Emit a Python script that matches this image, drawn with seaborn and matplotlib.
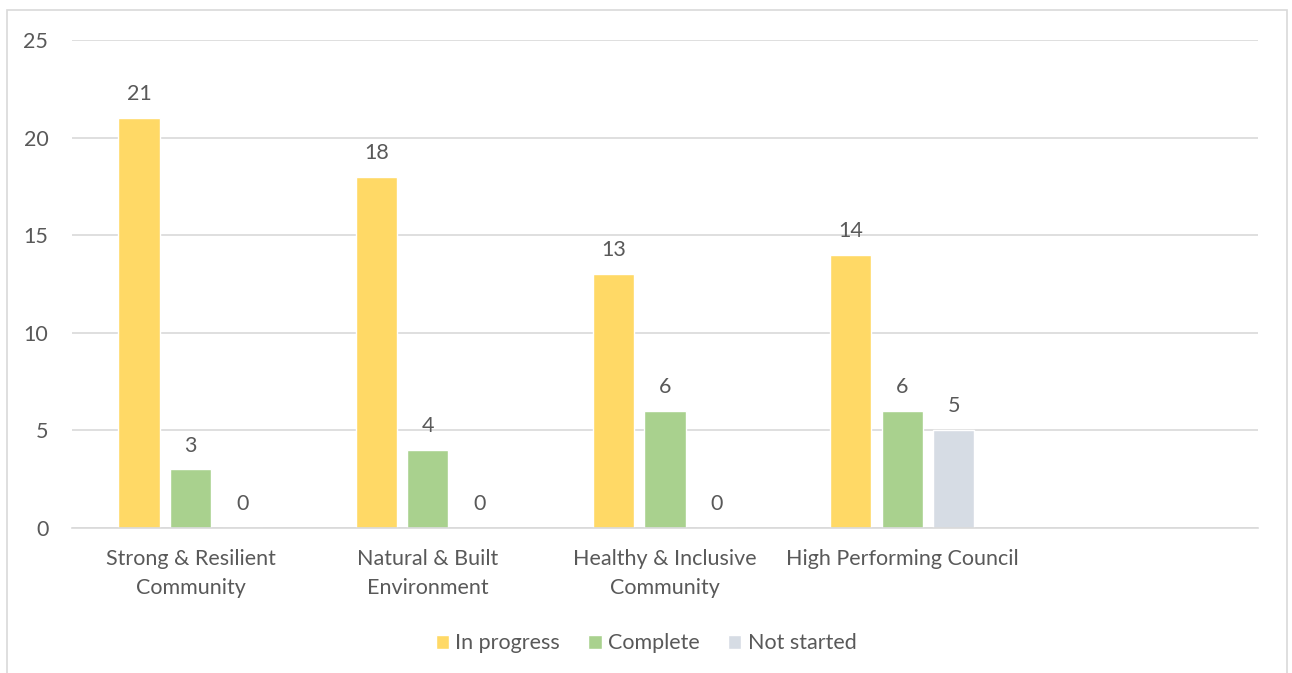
import matplotlib
matplotlib.use("Agg")
import matplotlib.pyplot as plt
import seaborn as sns
import pandas as pd
from matplotlib.patches import Rectangle

categories = ["Strong & Resilient\nCommunity", "Natural & Built\nEnvironment",
              "Healthy & Inclusive\nCommunity", "High Performing Council"]
series = ["In progress", "Complete", "Not started"]
in_progress = [21, 18, 13, 14]
complete = [3, 4, 6, 6]
not_started = [0, 0, 0, 5]
colors = ["#FFD966", "#A9D18E", "#D6DCE4"]
yticks = [0, 5, 10, 15, 20, 25]

rows = []
for vals, s in zip([in_progress, complete, not_started], series):
    for c, v in zip(categories, vals):
        rows.append({"category": c, "series": s, "value": v})
df = pd.DataFrame(rows)

sns.set_theme(style="white")
plt.rcParams["font.family"] = ["Lato", "DejaVu Sans"]
text_color = "#595959"
fs = 15.5

fig = plt.figure(figsize=(12.92, 6.73), dpi=100)
ax = fig.add_axes([0.0557, 0.2155, 0.918, 0.725])

sns.barplot(data=df, x="category", y="value", hue="series", order=categories,
            hue_order=series, palette=colors, width=0.652, gap=0.2,
            saturation=1, ax=ax, legend=True, errorbar=None)

for cont in ax.containers:
    ax.bar_label(cont, padding=10, fontsize=fs, color=text_color)

ax.set_xlim(-0.5, 4.5)
ax.set_ylim(0, 25)
ax.set_yticks(yticks)
ax.yaxis.grid(True, color="#D9D9D9", linewidth=1.2)
ax.set_axisbelow(True)
for sp in ["top", "right", "left"]:
    ax.spines[sp].set_visible(False)
ax.spines["bottom"].set_color("#D9D9D9")
ax.spines["bottom"].set_linewidth(1.2)
ax.set_xlabel("")
ax.set_ylabel("")
ax.tick_params(axis="both", length=0, labelsize=fs, labelcolor=text_color)
ax.tick_params(axis="y", pad=17)
ax.tick_params(axis="x", pad=15)
for t in ax.get_xticklabels():
    t.set_linespacing(1.6)

h, l = ax.get_legend_handles_labels()
ax.legend(h, l, loc="center", bbox_to_anchor=(0.5, 0.044), bbox_transform=fig.transFigure,
          ncol=3, frameon=False, fontsize=fs, labelcolor=text_color,
          handlelength=0.62, handleheight=0.62, handletextpad=0.3, columnspacing=1.3)

fig.patches.append(Rectangle((7 / 1292, -0.05), 1280 / 1292, 1 - 10 / 673 + 0.05,
                             transform=fig.transFigure, fill=False,
                             edgecolor="#D9D9D9", linewidth=1.2))

fig.savefig("out.png", dpi=100, facecolor="white")
